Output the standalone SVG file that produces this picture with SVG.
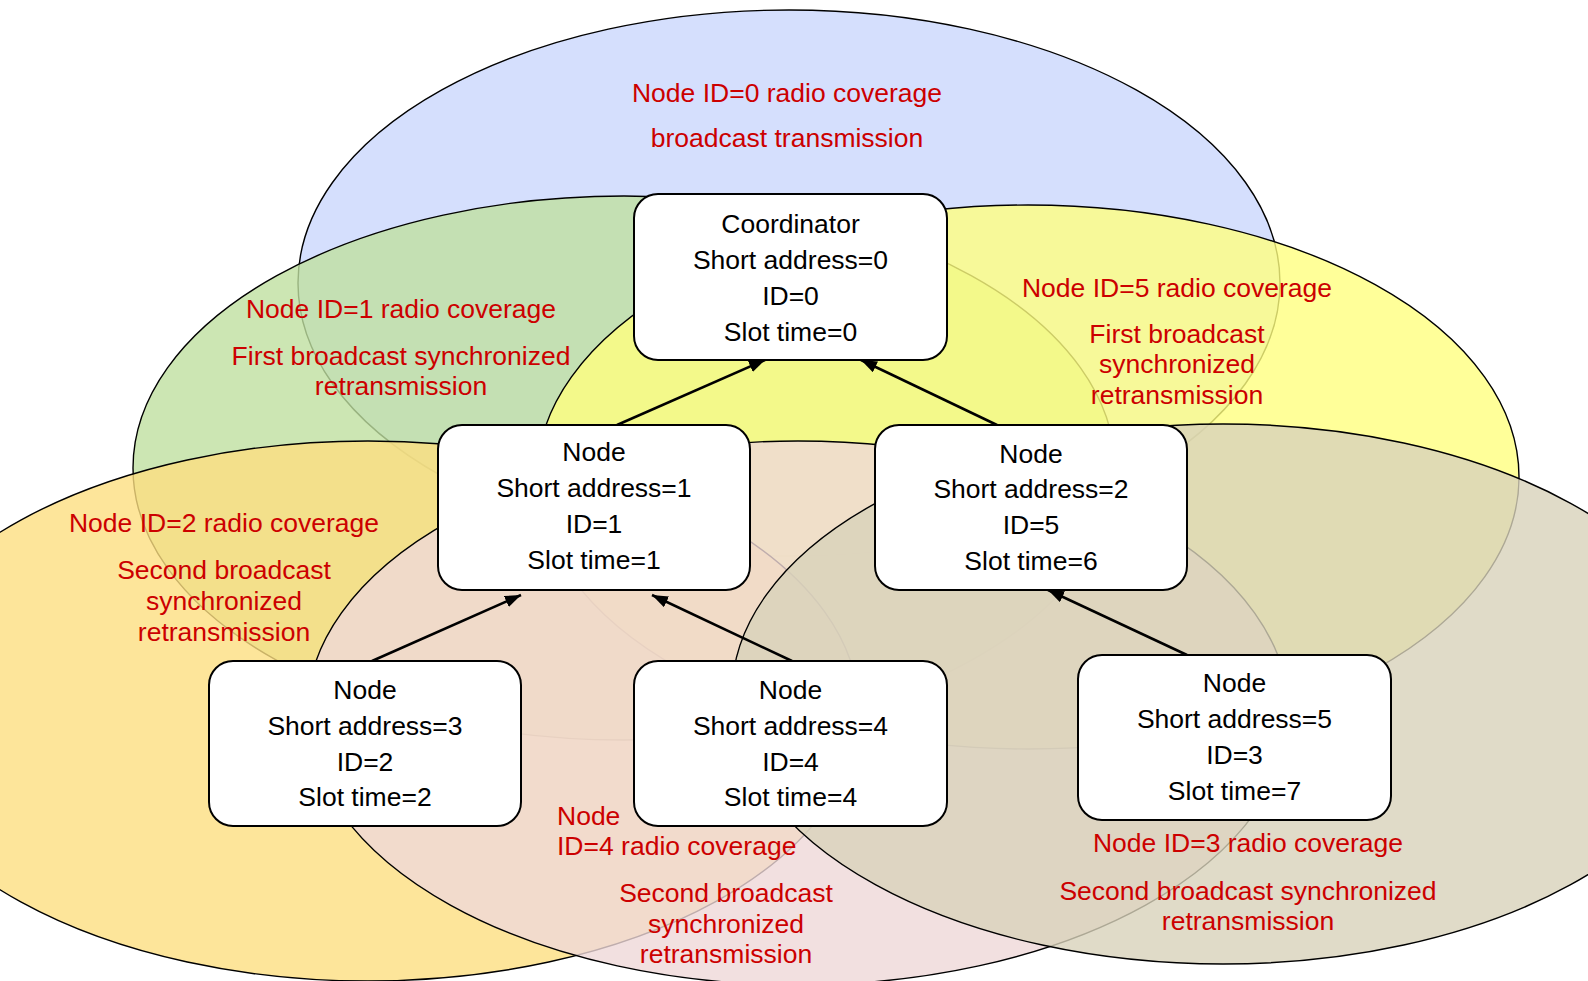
<svg xmlns="http://www.w3.org/2000/svg" width="1588" height="981" viewBox="0 0 1588 981">
<style>
.cov{stroke:#000;stroke-width:1.4;fill-opacity:0.8}
.box{fill:#fff;stroke:#000;stroke-width:2}
.nt{font-family:"Liberation Sans",Arial,sans-serif;font-size:26.5px;fill:#000;text-anchor:middle}
.rt{font-family:"Liberation Sans",Arial,sans-serif;font-size:26.5px;fill:#cc0000;text-anchor:middle}
.rl{font-family:"Liberation Sans",Arial,sans-serif;font-size:26.5px;fill:#cc0000;text-anchor:start}
.con{stroke:#000;stroke-width:2.5;fill:none;marker-end:url(#ah)}
</style>
<defs>
<marker id="ah" markerUnits="userSpaceOnUse" markerWidth="18" markerHeight="14" refX="16" refY="6" orient="auto">
<path d="M0,0 L16,6 L0,12 z" fill="#000"/>
</marker>
</defs>
<rect width="1588" height="981" fill="#fff"/>
<g id="coverage">
<ellipse id="cov0" class="cov" cx="789" cy="283" rx="491" ry="273" fill="#cbd7fc"/>
<ellipse id="cov1" class="cov" cx="624" cy="468" rx="491" ry="272" fill="#bfe0a0"/>
<ellipse id="cov5" class="cov" cx="1028" cy="477" rx="491" ry="272" fill="#ffff7f"/>
<ellipse id="cov2" class="cov" cx="368" cy="711" rx="491" ry="270" fill="#fcdf81"/>
<ellipse id="cov4" class="cov" cx="798" cy="713" rx="491" ry="272" fill="#efd8d8"/>
<ellipse id="cov3" class="cov" cx="1223" cy="694" rx="491" ry="270" fill="#d8d2ba"/>
</g>
<g id="labels">
<text class="rt" x="787" y="102">Node ID=0 radio coverage</text>
<text class="rt" x="787" y="147">broadcast transmission</text>
<text class="rt" x="401" y="318">Node ID=1 radio coverage</text>
<text class="rt" x="401" y="365">First broadcast synchronized</text>
<text class="rt" x="401" y="395">retransmission</text>
<text class="rt" x="1177" y="296.5">Node ID=5 radio coverage</text>
<text class="rt" x="1177" y="343">First broadcast</text>
<text class="rt" x="1177" y="373">synchronized</text>
<text class="rt" x="1177" y="404">retransmission</text>
<text class="rt" x="224" y="532">Node ID=2 radio coverage</text>
<text class="rt" x="224" y="578.5">Second broadcast</text>
<text class="rt" x="224" y="609.5">synchronized</text>
<text class="rt" x="224" y="640.5">retransmission</text>
<text class="rl" x="557" y="824.5">Node</text>
<text class="rl" x="557" y="855">ID=4 radio coverage</text>
<text class="rt" x="726" y="901.5">Second broadcast</text>
<text class="rt" x="726" y="933">synchronized</text>
<text class="rt" x="726" y="963">retransmission</text>
<text class="rt" x="1248" y="852">Node ID=3 radio coverage</text>
<text class="rt" x="1248" y="899.5">Second broadcast synchronized</text>
<text class="rt" x="1248" y="929.5">retransmission</text>
</g>
<g id="connectors">
<line class="con" x1="617" y1="425" x2="765" y2="360"/>
<line class="con" x1="997" y1="425" x2="861" y2="360"/>
<line class="con" x1="372" y1="661" x2="521" y2="595"/>
<line class="con" x1="792" y1="661" x2="652" y2="595"/>
<line class="con" x1="1187" y1="655" x2="1048" y2="590"/>
</g>
<g id="node-coordinator">
<rect class="box" x="634" y="194" width="313" height="166" rx="24"/>
<text class="nt" x="790.5" y="232.5">Coordinator</text>
<text class="nt" x="790.5" y="268.5">Short address=0</text>
<text class="nt" x="790.5" y="304.5">ID=0</text>
<text class="nt" x="790.5" y="340.5">Slot time=0</text>
</g>
<g id="node-id1">
<rect class="box" x="438" y="425" width="312" height="165" rx="24"/>
<text class="nt" x="594" y="460.5">Node</text>
<text class="nt" x="594" y="496.5">Short address=1</text>
<text class="nt" x="594" y="532.5">ID=1</text>
<text class="nt" x="594" y="568.5">Slot time=1</text>
</g>
<g id="node-id5">
<rect class="box" x="875" y="425" width="312" height="165" rx="24"/>
<text class="nt" x="1031" y="462.5">Node</text>
<text class="nt" x="1031" y="497.5">Short address=2</text>
<text class="nt" x="1031" y="533.5">ID=5</text>
<text class="nt" x="1031" y="569.5">Slot time=6</text>
</g>
<g id="node-id2">
<rect class="box" x="209" y="661" width="312" height="165" rx="24"/>
<text class="nt" x="365" y="698.5">Node</text>
<text class="nt" x="365" y="734.5">Short address=3</text>
<text class="nt" x="365" y="770.5">ID=2</text>
<text class="nt" x="365" y="805.5">Slot time=2</text>
</g>
<g id="node-id4">
<rect class="box" x="634" y="661" width="313" height="165" rx="24"/>
<text class="nt" x="790.5" y="698.5">Node</text>
<text class="nt" x="790.5" y="734.5">Short address=4</text>
<text class="nt" x="790.5" y="770.5">ID=4</text>
<text class="nt" x="790.5" y="805.5">Slot time=4</text>
</g>
<g id="node-id3">
<rect class="box" x="1078" y="655" width="313" height="165" rx="24"/>
<text class="nt" x="1234.5" y="691.5">Node</text>
<text class="nt" x="1234.5" y="727.5">Short address=5</text>
<text class="nt" x="1234.5" y="763.5">ID=3</text>
<text class="nt" x="1234.5" y="799.5">Slot time=7</text>
</g>
</svg>
